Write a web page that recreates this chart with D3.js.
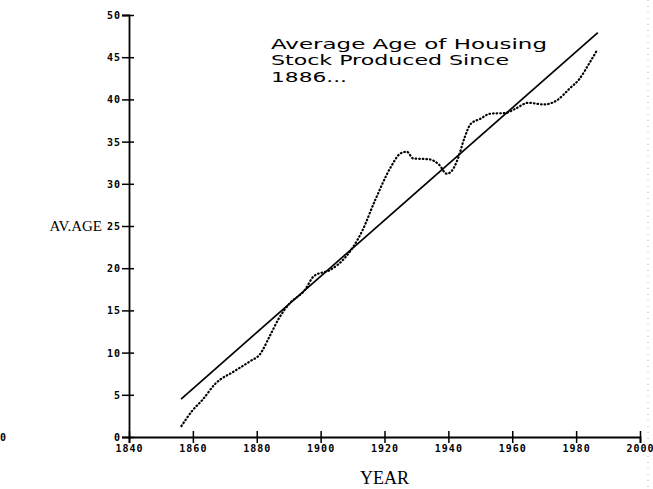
<!DOCTYPE html>
<html>
<head>
<meta charset="utf-8">
<script src="https://cdn.jsdelivr.net/npm/d3@7"></script>
<style>
  body { margin: 0; background: #fff; }
  svg { display: block; }
</style>
</head>
<body>
<div id="chart"></div>
<script>
// average age of housing stock produced since 1886
const yearTicks = [1840, 1860, 1880, 1900, 1920, 1940, 1960, 1980, 2000]
const ageTicks = [0, 5, 10, 15, 20, 25, 30, 35, 40, 45, 50]

// fitted trend (straight line)
const trendYears = [1856.3, 1986.8]
const trendAges = [4.5, 47.9]

// actual series (dotted)
const actualYears = [1856.4, 1860, 1863, 1867, 1873, 1878, 1881, 1884, 1887, 1890, 1895, 1898,
  1903, 1908, 1913, 1917, 1922, 1925, 1927, 1929, 1934, 1937, 1939.5, 1941, 1943, 1945,
  1947, 1950, 1953, 1958, 1961, 1965, 1970, 1974, 1978, 1981, 1984, 1986.5]
const actualAges = [1.3, 3.2, 4.4, 6.3, 7.8, 9.0, 9.8, 11.9, 14.1, 15.7, 17.4, 19.1,
  19.8, 21.4, 24.4, 28.0, 32.0, 33.6, 33.8, 33.0, 32.9, 32.3, 31.2, 31.5, 33.0, 35.4,
  37.1, 37.7, 38.3, 38.4, 38.9, 39.6, 39.4, 39.9, 41.3, 42.4, 44.2, 45.8]

const svg = d3.select("#chart")
    .append("svg")
    .attr("width", 653)
    .attr("height", 489)

const x = d3.scaleLinear().domain([1840, 2000]).range([129, 640])
const y = d3.scaleLinear().domain([0, 50]).range([437, 15])

const tickFont = "'DejaVu Sans Mono', 'Liberation Mono', monospace"
const serif = "'Liberation Serif', 'DejaVu Serif', serif"

// y axis
const yAxis = svg.append("g")
    .attr("transform", "translate(" + x(1840) + ",0)")
    .call(d3.axisLeft(y).tickValues(ageTicks).tickSize(7).tickPadding(1))
yAxis.select(".domain").attr("stroke-width", 1.8)
yAxis.selectAll(".tick line").attr("x1", 5).attr("stroke-width", 1.5)
yAxis.selectAll(".tick text")
    .style("font-family", tickFont)
    .style("font-size", "10px")
    .style("font-weight", "bold")
    .style("letter-spacing", "1px")
    .attr("dy", "0.35em")

// x axis
const xAxis = svg.append("g")
    .attr("transform", "translate(0," + y(0) + ")")
    .call(d3.axisBottom(x).tickValues(yearTicks).tickFormat(d3.format("d")).tickSize(6).tickPadding(2))
xAxis.select(".domain").attr("stroke-width", 1.8)
xAxis.selectAll(".tick line").attr("y1", -6).attr("stroke-width", 1.5)
xAxis.selectAll(".tick text")
    .style("font-family", tickFont)
    .style("font-size", "10px")
    .style("font-weight", "bold")
    .style("letter-spacing", "1px")

// axis titles
svg.append("text")
    .attr("x", 102)
    .attr("y", y(25) + 5)
    .attr("text-anchor", "end")
    .style("font-family", serif)
    .style("font-size", "15px")
    .text("AV.AGE")

svg.append("text")
    .attr("x", x(1920))
    .attr("y", 484)
    .attr("text-anchor", "middle")
    .style("font-family", serif)
    .style("font-size", "18px")
    .text("YEAR")

// trend line
const trend = trendYears.map((d, i) => [d, trendAges[i]])
svg.append("path")
    .datum(trend)
    .attr("fill", "none")
    .attr("stroke", "#000")
    .attr("stroke-width", 1.7)
    .attr("d", d3.line().x(d => x(d[0])).y(d => y(d[1])))

// dotted actual line
const actual = actualYears.map((d, i) => [d, actualAges[i]])
svg.append("path")
    .datum(actual)
    .attr("fill", "none")
    .attr("stroke", "#000")
    .attr("stroke-width", 2.2)
    .attr("stroke-linecap", "round")
    .attr("stroke-dasharray", "0.6,3")
    .attr("d", d3.line().curve(d3.curveMonotoneX).x(d => x(d[0])).y(d => y(d[1])))

// handwritten note
const note = ["Average Age of Housing", "Stock Produced Since", "1886..."]
const noteY = [49, 65, 82]
const noteW = [276, 238, 76]
note.forEach((t, i) => {
    svg.append("text")
        .attr("x", 271)
        .attr("y", noteY[i])
        .attr("textLength", noteW[i])
        .attr("lengthAdjust", "spacingAndGlyphs")
        .style("font-family", "'DejaVu Sans', sans-serif")
        .style("font-size", "14px")
        .text(t)
})

// stray scan mark at left edge
svg.append("text")
    .attr("x", 0)
    .attr("y", 441)
    .style("font-family", tickFont)
    .style("font-size", "10px")
    .style("font-weight", "bold")
    .text("0")

// faint scan edge on the right
svg.append("line")
    .attr("x1", 648).attr("x2", 648)
    .attr("y1", 0).attr("y2", 489)
    .attr("stroke", "#bbb")
    .attr("stroke-dasharray", "1,5")
</script>
</body>
</html>
